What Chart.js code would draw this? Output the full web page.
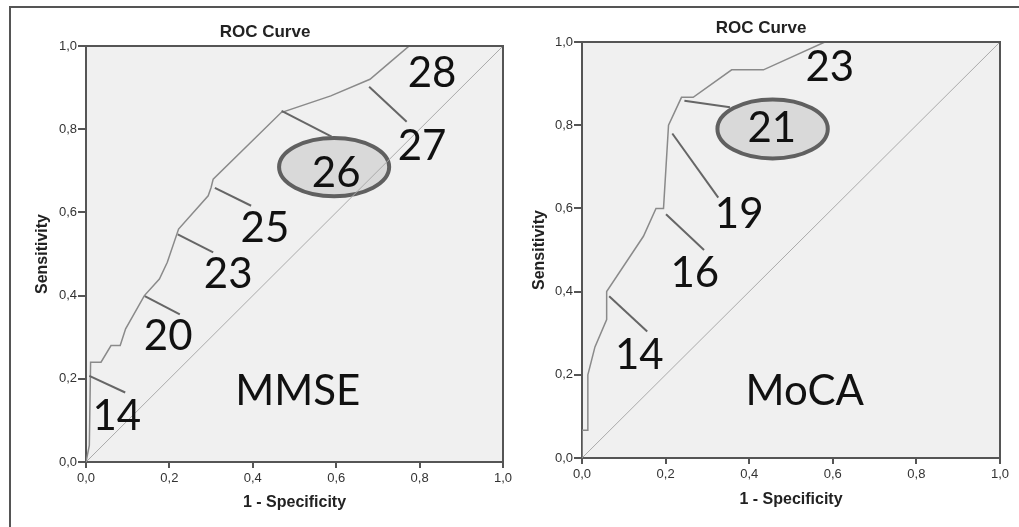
<!DOCTYPE html>
<html>
<head>
<meta charset="utf-8">
<script src="https://cdn.jsdelivr.net/npm/chart.js@4.4.1/dist/chart.umd.min.js"></script>
<style>
    html, body { margin: 0; padding: 0; background: #fff; }
    body { width: 1019px; height: 527px; position: relative; overflow: hidden; }
    #marco {
        position: absolute; left: 9px; top: 6px; width: 1030px; height: 540px;
        border-left: 2px solid #555; border-top: 2px solid #555;
    }
    .panel { position: absolute; top: 0; height: 527px; }
    #panelMmse { left: 0; width: 520px; }
    #panelMoca { left: 505px; width: 514px; }
</style>
</head>
<body>
<div id="marco"></div>
<div class="panel" id="panelMmse"><canvas id="chartMmse"></canvas></div>
<div class="panel" id="panelMoca"><canvas id="chartMoca"></canvas></div>

<script>
// --- Datos ---
const tickValores = [0, 0.2, 0.4, 0.6, 0.8, 1.0];
const diagonal = [0, 1];

// MMSE: 1 - especificidad / sensibilidad
const mmseFpr = [0, 0.008, 0.011, 0.036, 0.060, 0.082, 0.095, 0.140, 0.176, 0.195, 0.222, 0.293, 0.300, 0.305, 0.468, 0.587, 0.681, 0.728, 0.775, 1.0];
const mmseTpr = [0, 0.04, 0.24, 0.24, 0.28, 0.28, 0.32, 0.40, 0.44, 0.48, 0.56, 0.64, 0.66, 0.68, 0.84, 0.88, 0.92, 0.96, 1.0, 1.0];

// MoCA
const mocaFpr = [0, 0, 0.014, 0.014, 0.031, 0.059, 0.059, 0.147, 0.177, 0.195, 0.207, 0.238, 0.266, 0.358, 0.434, 0.581, 1.0];
const mocaTpr = [0, 0.067, 0.067, 0.200, 0.267, 0.333, 0.400, 0.533, 0.600, 0.600, 0.800, 0.867, 0.867, 0.933, 0.933, 1.0, 1.0];

// Puntos de corte marcados en cada curva
const mmseCortes = ['14', '20', '23', '25', '26', '27', '28'];
const mocaCortes = ['14', '16', '19', '21', '23'];

// Posicion de las anotaciones (en unidades de los ejes)
const mmseNotas = [
    { linea: [0.008, 0.207, 0.094, 0.167], texto: [0.074, 0.113] },
    { linea: [0.141, 0.399, 0.225, 0.355], texto: [0.197, 0.305] },
    { linea: [0.220, 0.547, 0.305, 0.504], texto: [0.341, 0.454] },
    { linea: [0.309, 0.659, 0.396, 0.616], texto: [0.429, 0.565] },
    { linea: [0.469, 0.844, 0.589, 0.782], texto: [0.600, 0.697] },
    { linea: [0.679, 0.902, 0.769, 0.818], texto: [0.806, 0.762] },
    { linea: null, texto: [0.830, 0.938] }
];
const mocaNotas = [
    { linea: [0.065, 0.389, 0.156, 0.304], texto: [0.137, 0.250] },
    { linea: [0.201, 0.586, 0.292, 0.500], texto: [0.270, 0.448] },
    { linea: [0.216, 0.780, 0.326, 0.626], texto: [0.376, 0.590] },
    { linea: [0.245, 0.859, 0.354, 0.843], texto: [0.454, 0.796] },
    { linea: null, texto: [0.593, 0.942] }
];

const FUENTE_EJES = '"Liberation Sans", Arial, sans-serif';
const FUENTE_GRANDE = 'Lato, "Open Sans", sans-serif';

function puntos(xs, ys) {
    return xs.map((x, i) => ({ x: x, y: ys[i] }));
}

function formatoComa(v) {
    return Number(v).toFixed(1).replace('.', ',');
}

/**
 * Plugin con el fondo gris, el marco del area, el titulo y las etiquetas de corte
 */
function plugNotas(cortes, notas, ovalo, nombre, titulo) {
    return {
        id: 'notas',
        beforeDraw(chart) {
            const { ctx, chartArea: a } = chart;
            ctx.save();
            ctx.fillStyle = '#f0f0f0';
            ctx.fillRect(a.left, a.top, a.right - a.left, a.bottom - a.top);
            ctx.restore();
        },
        beforeDatasetsDraw(chart) {
            const { ctx, scales: { x, y } } = chart;
            const cx = x.getPixelForValue(ovalo.c[0]);
            const cy = y.getPixelForValue(ovalo.c[1]);
            const rx = x.getPixelForValue(ovalo.c[0] + ovalo.r[0]) - cx;
            const ry = cy - y.getPixelForValue(ovalo.c[1] + ovalo.r[1]);
            ctx.save();
            ctx.beginPath();
            ctx.ellipse(cx, cy, rx, ry, 0, 0, Math.PI * 2);
            ctx.fillStyle = '#d9d9d9';
            ctx.fill();
            ctx.lineWidth = 4;
            ctx.strokeStyle = '#606060';
            ctx.stroke();
            ctx.restore();
        },
        afterDatasetsDraw(chart) {
            const { ctx, chartArea: a, scales: { x, y } } = chart;
            ctx.save();

            // lado superior y derecho del area
            ctx.strokeStyle = '#555';
            ctx.lineWidth = 2;
            ctx.beginPath();
            ctx.moveTo(a.left, a.top);
            ctx.lineTo(a.right, a.top);
            ctx.lineTo(a.right, a.bottom);
            ctx.stroke();

            // titulo (en SPSS no queda centrado sobre el area)
            ctx.fillStyle = '#222';
            ctx.font = 'bold 17px ' + FUENTE_EJES;
            ctx.textAlign = 'center';
            ctx.textBaseline = 'middle';
            ctx.fillText(titulo.texto, titulo.x, titulo.y);

            // lineas guia
            ctx.strokeStyle = '#666';
            ctx.lineWidth = 2;
            notas.forEach(n => {
                if (!n.linea) return;
                ctx.beginPath();
                ctx.moveTo(x.getPixelForValue(n.linea[0]), y.getPixelForValue(n.linea[1]));
                ctx.lineTo(x.getPixelForValue(n.linea[2]), y.getPixelForValue(n.linea[3]));
                ctx.stroke();
            });

            // numeros
            ctx.fillStyle = '#111';
            ctx.font = '42px ' + FUENTE_GRANDE;
            ctx.textAlign = 'center';
            ctx.textBaseline = 'alphabetic';
            notas.forEach((n, i) => {
                ctx.fillText(cortes[i], x.getPixelForValue(n.texto[0]), y.getPixelForValue(n.texto[1]) + 15);
            });
            ctx.fillText(nombre.texto, x.getPixelForValue(nombre.pos[0]), y.getPixelForValue(nombre.pos[1]) + 15);
            ctx.restore();
        }
    };
}

function crearRoc(idCanvas, curvaX, curvaY, geo, plugin) {
    const ctx = document.getElementById(idCanvas).getContext('2d');
    return new Chart(ctx, {
        type: 'scatter',
        data: {
            datasets: [
                {
                    data: puntos(curvaX, curvaY),
                    showLine: true,
                    borderColor: '#8a8a8a',
                    borderWidth: 1.5,
                    pointRadius: 0,
                    tension: 0
                },
                {
                    data: puntos(diagonal, diagonal),
                    showLine: true,
                    borderColor: '#aaaaaa',
                    borderWidth: 1,
                    pointRadius: 0
                }
            ]
        },
        options: {
            responsive: true,
            maintainAspectRatio: false,
            animation: false,
            layout: { padding: { left: 0, right: geo.derecha, top: geo.arriba, bottom: 0 } },
            plugins: {
                legend: { display: false },
                tooltip: { enabled: false },
                title: { display: false }
            },
            scales: {
                x: {
                    type: 'linear',
                    min: 0, max: 1,
                    afterFit: s => { s.height = geo.altoX; },
                    afterBuildTicks: s => { s.ticks = tickValores.map(v => ({ value: v })); },
                    ticks: {
                        callback: formatoComa,
                        color: '#333',
                        padding: 3,
                        maxRotation: 0,
                        autoSkip: false,
                        font: { family: FUENTE_EJES, size: 13 }
                    },
                    grid: { drawOnChartArea: false, drawTicks: true, tickLength: 6, color: '#555', lineWidth: 2 },
                    border: { display: true, color: '#555', width: 2 },
                    title: {
                        display: true,
                        text: '1 - Specificity',
                        color: '#222',
                        font: { family: FUENTE_EJES, size: 16, weight: 'bold' },
                        padding: { top: 0, bottom: geo.tituloX }
                    }
                },
                y: {
                    type: 'linear',
                    min: 0, max: 1,
                    afterFit: s => { s.width = geo.anchoY; },
                    afterBuildTicks: s => { s.ticks = tickValores.map(v => ({ value: v })); },
                    ticks: {
                        callback: formatoComa,
                        color: '#333',
                        padding: 1,
                        autoSkip: false,
                        font: { family: FUENTE_EJES, size: 13 }
                    },
                    grid: { drawOnChartArea: false, drawTicks: true, tickLength: 8, color: '#555', lineWidth: 2 },
                    border: { display: true, color: '#555', width: 2 },
                    title: {
                        display: true,
                        text: 'Sensitivity',
                        color: '#222',
                        font: { family: FUENTE_EJES, size: 16, weight: 'bold' },
                        padding: { top: geo.tituloY, bottom: 0 }
                    }
                }
            }
        },
        plugins: [plugin]
    });
}

document.addEventListener("DOMContentLoaded", () => {
    crearRoc('chartMmse', mmseFpr, mmseTpr,
        { derecha: 17, arriba: 46, altoX: 65, anchoY: 86, tituloX: 14.4, tituloY: 33.4 },
        plugNotas(mmseCortes, mmseNotas,
            { c: [0.595, 0.709], r: [0.132, 0.070] },
            { texto: 'MMSE', pos: [0.508, 0.173] },
            { texto: 'ROC Curve', x: 265, y: 32 }));

    crearRoc('chartMoca', mocaFpr, mocaTpr,
        { derecha: 19, arriba: 42, altoX: 69, anchoY: 77, tituloX: 17.4, tituloY: 25.4 },
        plugNotas(mocaCortes, mocaNotas,
            { c: [0.456, 0.791], r: [0.132, 0.071] },
            { texto: 'MoCA', pos: [0.533, 0.163] },
            { texto: 'ROC Curve', x: 256, y: 28 }));
});
</script>
</body>
</html>
